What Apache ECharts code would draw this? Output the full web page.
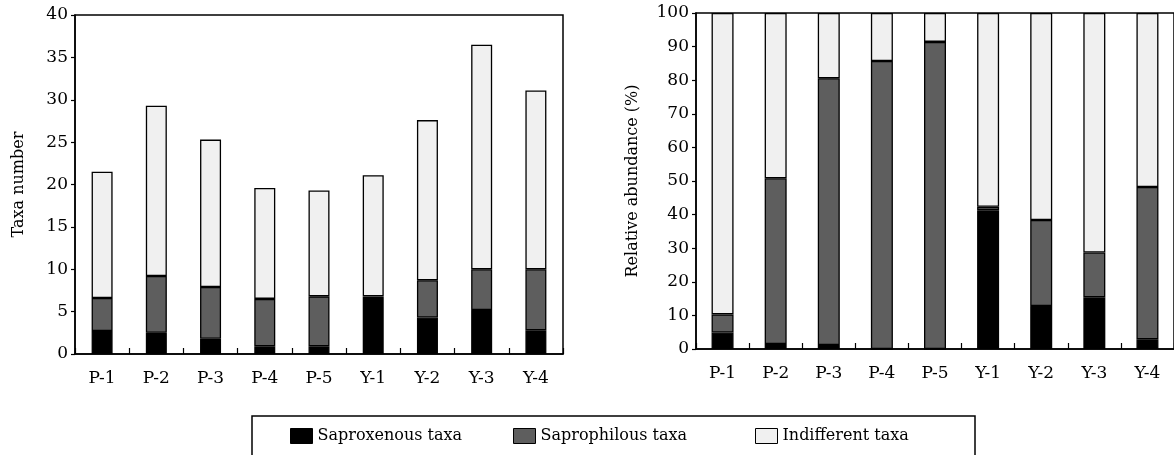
<!DOCTYPE html>
<html>
<head>
<meta charset="utf-8">
<script src="https://cdn.jsdelivr.net/npm/echarts@6/dist/echarts.min.js"></script>
<style>
html,body{margin:0;padding:0;background:#fff;}
#chart{width:1174px;height:455px;}
</style>
</head>
<body>
<div id="chart"></div>
<script>
const categories = ['P-1','P-2','P-3','P-4','P-5','Y-1','Y-2','Y-3','Y-4'];
// Left: taxa number (stacked)
const taxaSaproxenous  = [2.7, 2.5, 1.8, 0.9, 0.9, 6.6, 4.3, 5.2, 2.8];
const taxaSaprophilous = [3.9, 6.7, 6.1, 5.6, 5.9, 0.2, 4.4, 4.8, 7.2];
const taxaIndifferent  = [14.9, 20.1, 17.4, 13.1, 12.5, 14.3, 18.9, 26.5, 21.1];
// Right: relative abundance (%) (stacked)
const relSaproxenous  = [4.9, 1.5, 1.2, 0.0, 0.0, 41.3, 12.8, 15.4, 2.9];
const relSaprophilous = [5.4, 49.3, 79.4, 85.7, 91.4, 1.0, 25.6, 13.3, 45.3];
const relIndifferent  = [89.7, 49.2, 19.4, 14.3, 8.6, 57.7, 61.6, 71.3, 51.8];
const taxaTicks = [0,5,10,15,20,25,30,35,40];
const relTicks = [0,10,20,30,40,50,60,70,80,90,100];

const FONT = 'DejaVu Serif';
const names = ['Saproxenous taxa','Saprophilous taxa','Indifferent taxa'];
const colors = ['#000000','#5e5e5e','#f0f0f0'];

const chart = echarts.init(document.getElementById('chart'));

function xAxis(gi){
  return {
    type:'category', gridIndex:gi, data:categories,
    axisLine:{show:true,lineStyle:{color:'#000',width:1.5}},
    axisTick:{show:true,inside:true,length:6,lineStyle:{color:'#000',width:1.2}},
    axisLabel:{color:'#000',fontFamily:FONT,fontSize:17,margin:16}
  };
}
function yAxis(gi,max,interval,name,gap){
  return {
    type:'value', gridIndex:gi, min:0, max:max, interval:interval,
    name:name, nameLocation:'middle', nameGap:gap,
    nameTextStyle:{color:'#000',fontFamily:FONT,fontSize:16},
    axisLine:{show:true,lineStyle:{color:'#000',width:1.5}},
    axisTick:{show:true,inside:false,length:4,lineStyle:{color:'#000',width:1.2}},
    axisLabel:{color:'#000',fontFamily:FONT,fontSize:17,margin:7},
    splitLine:{show:false}
  };
}
function barSeries(name,data,idx,gi,stack,bw){
  return {
    type:'bar', name:name, data:data, stack:stack,
    xAxisIndex:gi, yAxisIndex:gi, barWidth:bw,
    itemStyle:{color:colors[idx],borderColor:'#000',borderWidth:1.3},
    emphasis:{disabled:true}, animation:false
  };
}
const legendLefts = [290, 513, 755];
chart.setOption({
  animation:false,
  textStyle:{fontFamily:FONT},
  grid:[
    {left:75, top:15, width:488, height:339, show:true, borderColor:'#000', borderWidth:1.5, backgroundColor:'transparent'},
    {left:696, top:13, width:482, height:336, show:true, borderColor:'#000', borderWidth:1.5, backgroundColor:'transparent'}
  ],
  xAxis:[xAxis(0), xAxis(1)],
  yAxis:[yAxis(0,40,5,'Taxa number',48), yAxis(1,100,10,'Relative abundance (%)',55)],
  legend: names.map((n,i)=>({
    data:[{name:n, icon:'rect'}], left:legendLefts[i], top:428, itemWidth:22, itemHeight:15, itemGap:4,
    padding:0, selectedMode:false,
    itemStyle:{borderColor:'#000',borderWidth:1},
    textStyle:{color:'#000',fontFamily:FONT,fontSize:16}
  })),
  graphic:[{
    type:'rect', shape:{x:252, y:416, width:723, height:50},
    style:{fill:'none', stroke:'#000', lineWidth:1.5}, silent:true
  }],
  series:[
    barSeries(names[0],taxaSaproxenous,0,0,'a',21),
    barSeries(names[1],taxaSaprophilous,1,0,'a',21),
    barSeries(names[2],taxaIndifferent,2,0,'a',21),
    barSeries(names[0],relSaproxenous,0,1,'b',22),
    barSeries(names[1],relSaprophilous,1,1,'b',22),
    barSeries(names[2],relIndifferent,2,1,'b',22)
  ]
});
</script>
</body>
</html>
